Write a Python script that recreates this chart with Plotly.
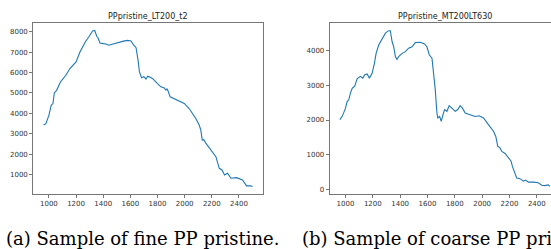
import plotly.graph_objects as go

W, H = 551, 249

# Left sample: PPpristine_LT200_t2
lt_x = [961, 978, 1000, 1017, 1030, 1040, 1057, 1085, 1105, 1125, 1155, 1200, 1228, 1268,
        1297, 1322, 1338, 1352, 1362, 1376, 1400, 1420, 1440, 1460, 1482, 1518, 1550, 1580,
        1605, 1625, 1642, 1657, 1667, 1683, 1700, 1715, 1728, 1740, 1765, 1800, 1825, 1850,
        1862, 1870, 1878, 1893, 1935, 1997, 2033, 2082, 2107, 2119, 2130, 2140, 2157, 2176,
        2205, 2230, 2255, 2275, 2294, 2316, 2341, 2382, 2426, 2456, 2487, 2500]
lt_y = [3430, 3500, 3900, 4400, 4480, 5000, 5130, 5540, 5700, 5870, 6200, 6520, 7000, 7500,
        7780, 8040, 8070, 7780, 7710, 7450, 7420, 7400, 7340, 7380, 7420, 7500, 7540, 7580,
        7550, 7340, 7220, 6600, 6030, 5750, 5800, 5680, 5820, 5790, 5700, 5460, 5300, 5250,
        5140, 5200, 5100, 4810, 4680, 4490, 4240, 3750, 3430, 3180, 2690, 2720, 2530, 2370,
        2120, 1880, 1310, 1230, 980, 1070, 820, 850, 740, 450, 450, 420]

# Right sample: PPpristine_MT200LT630
mt_x = [959, 976, 988, 1000, 1012, 1024, 1036, 1049, 1068, 1085, 1109, 1127, 1141, 1158,
        1175, 1195, 1212, 1224, 1243, 1268, 1292, 1316, 1328, 1341, 1353, 1365, 1377, 1389,
        1414, 1438, 1462, 1487, 1511, 1547, 1579, 1596, 1613, 1633, 1645, 1657, 1669, 1676,
        1689, 1701, 1713, 1725, 1742, 1759, 1779, 1803, 1822, 1839, 1856, 1876, 1912, 1949,
        1978, 2010, 2046, 2083, 2100, 2114, 2131, 2144, 2168, 2192, 2212, 2221, 2236, 2253,
        2277, 2302, 2319, 2338, 2375, 2411, 2436, 2460, 2484, 2496]
mt_y = [2010, 2105, 2220, 2340, 2530, 2580, 2770, 2910, 2980, 3180, 3250, 3200, 3295, 3320,
        3200, 3340, 3630, 3910, 4150, 4340, 4490, 4560, 4560, 4250, 4100, 3820, 3740, 3820,
        3910, 3960, 4060, 4100, 4220, 4230, 4180, 4100, 3870, 3770, 3390, 2870, 2200, 2060,
        2100, 1960, 2150, 2300, 2250, 2410, 2340, 2250, 2300, 2410, 2340, 2200, 2150, 2100,
        2120, 2060, 1870, 1680, 1530, 1250, 1200, 1100, 1040, 910, 820, 680, 490, 340,
        320, 250, 280, 220, 220, 200, 130, 120, 140, 100]

titles = ["PPpristine_LT200_t2", "PPpristine_MT200LT630"]
captions = ["(a) Sample of fine PP pristine.", "(b) Sample of coarse PP pristine."]
xticks = [1000, 1200, 1400, 1600, 1800, 2000, 2200, 2400]
lt_yticks = [1000, 2000, 3000, 4000, 5000, 6000, 7000, 8000]
mt_yticks = [0, 1000, 2000, 3000, 4000]

line_color = "#1f77b4"
spine = "#555555"
tickfont = dict(family="DejaVu Sans", size=7, color="#333333")

fig = go.Figure()
fig.add_trace(go.Scatter(x=lt_x, y=lt_y, mode="lines", line=dict(color=line_color, width=1.1),
                         xaxis="x", yaxis="y", showlegend=False, hoverinfo="skip"))
fig.add_trace(go.Scatter(x=mt_x, y=mt_y, mode="lines", line=dict(color=line_color, width=1.1),
                         xaxis="x2", yaxis="y2", showlegend=False, hoverinfo="skip"))

ydom = [1 - 194 / H, 1 - 23 / H]
common_x = dict(tickvals=xticks, ticks="outside", ticklen=3, tickwidth=0.8, tickcolor=spine,
                showline=True, linecolor=spine, linewidth=0.8, showgrid=False, zeroline=False,
                tickfont=tickfont)
common_y = dict(ticks="outside", ticklen=3, tickwidth=0.8, tickcolor=spine,
                showline=True, linecolor=spine, linewidth=0.8, showgrid=False, zeroline=False,
                tickfont=tickfont)

fig.update_layout(
    width=W, height=H,
    margin=dict(l=0, r=0, t=0, b=0),
    paper_bgcolor="white", plot_bgcolor="white",
    xaxis=dict(domain=[33 / W, 263 / W], range=[883, 2577], anchor="y", mirror=True, **common_x),
    yaxis=dict(domain=ydom, range=[50, 8430], tickvals=lt_yticks, anchor="x", mirror=True, **common_y),
    xaxis2=dict(domain=[329.5 / W, 1.0], range=[883, 2504], anchor="y2", mirror=True, **common_x),
    yaxis2=dict(domain=ydom, range=[-120, 4780], tickvals=mt_yticks, anchor="x2", mirror=False, **common_y),
)

# titles
for xc, t in [((33 + 263) / 2 / W, titles[0]), ((329.5 + 560) / 2 / W, titles[1])]:
    fig.add_annotation(x=xc, y=1 - 16 / H, xref="paper", yref="paper", text=t, showarrow=False,
                       font=dict(family="DejaVu Sans", size=8, color="#222222"),
                       xanchor="center", yanchor="middle")

# captions
cap_font = dict(family="DejaVu Serif", size=18, color="black")
fig.add_annotation(x=4 / W, y=1 - 238 / H, xref="paper", yref="paper", text=captions[0],
                   showarrow=False, font=cap_font, xanchor="left", yanchor="middle")
fig.add_annotation(x=300 / W, y=1 - 238 / H, xref="paper", yref="paper", text=captions[1],
                   showarrow=False, font=cap_font, xanchor="left", yanchor="middle")

fig.write_html("out.html", config={"displayModeBar": False, "staticPlot": True},
               post_script="document.body.style.margin='0';document.body.style.overflow='hidden';")
